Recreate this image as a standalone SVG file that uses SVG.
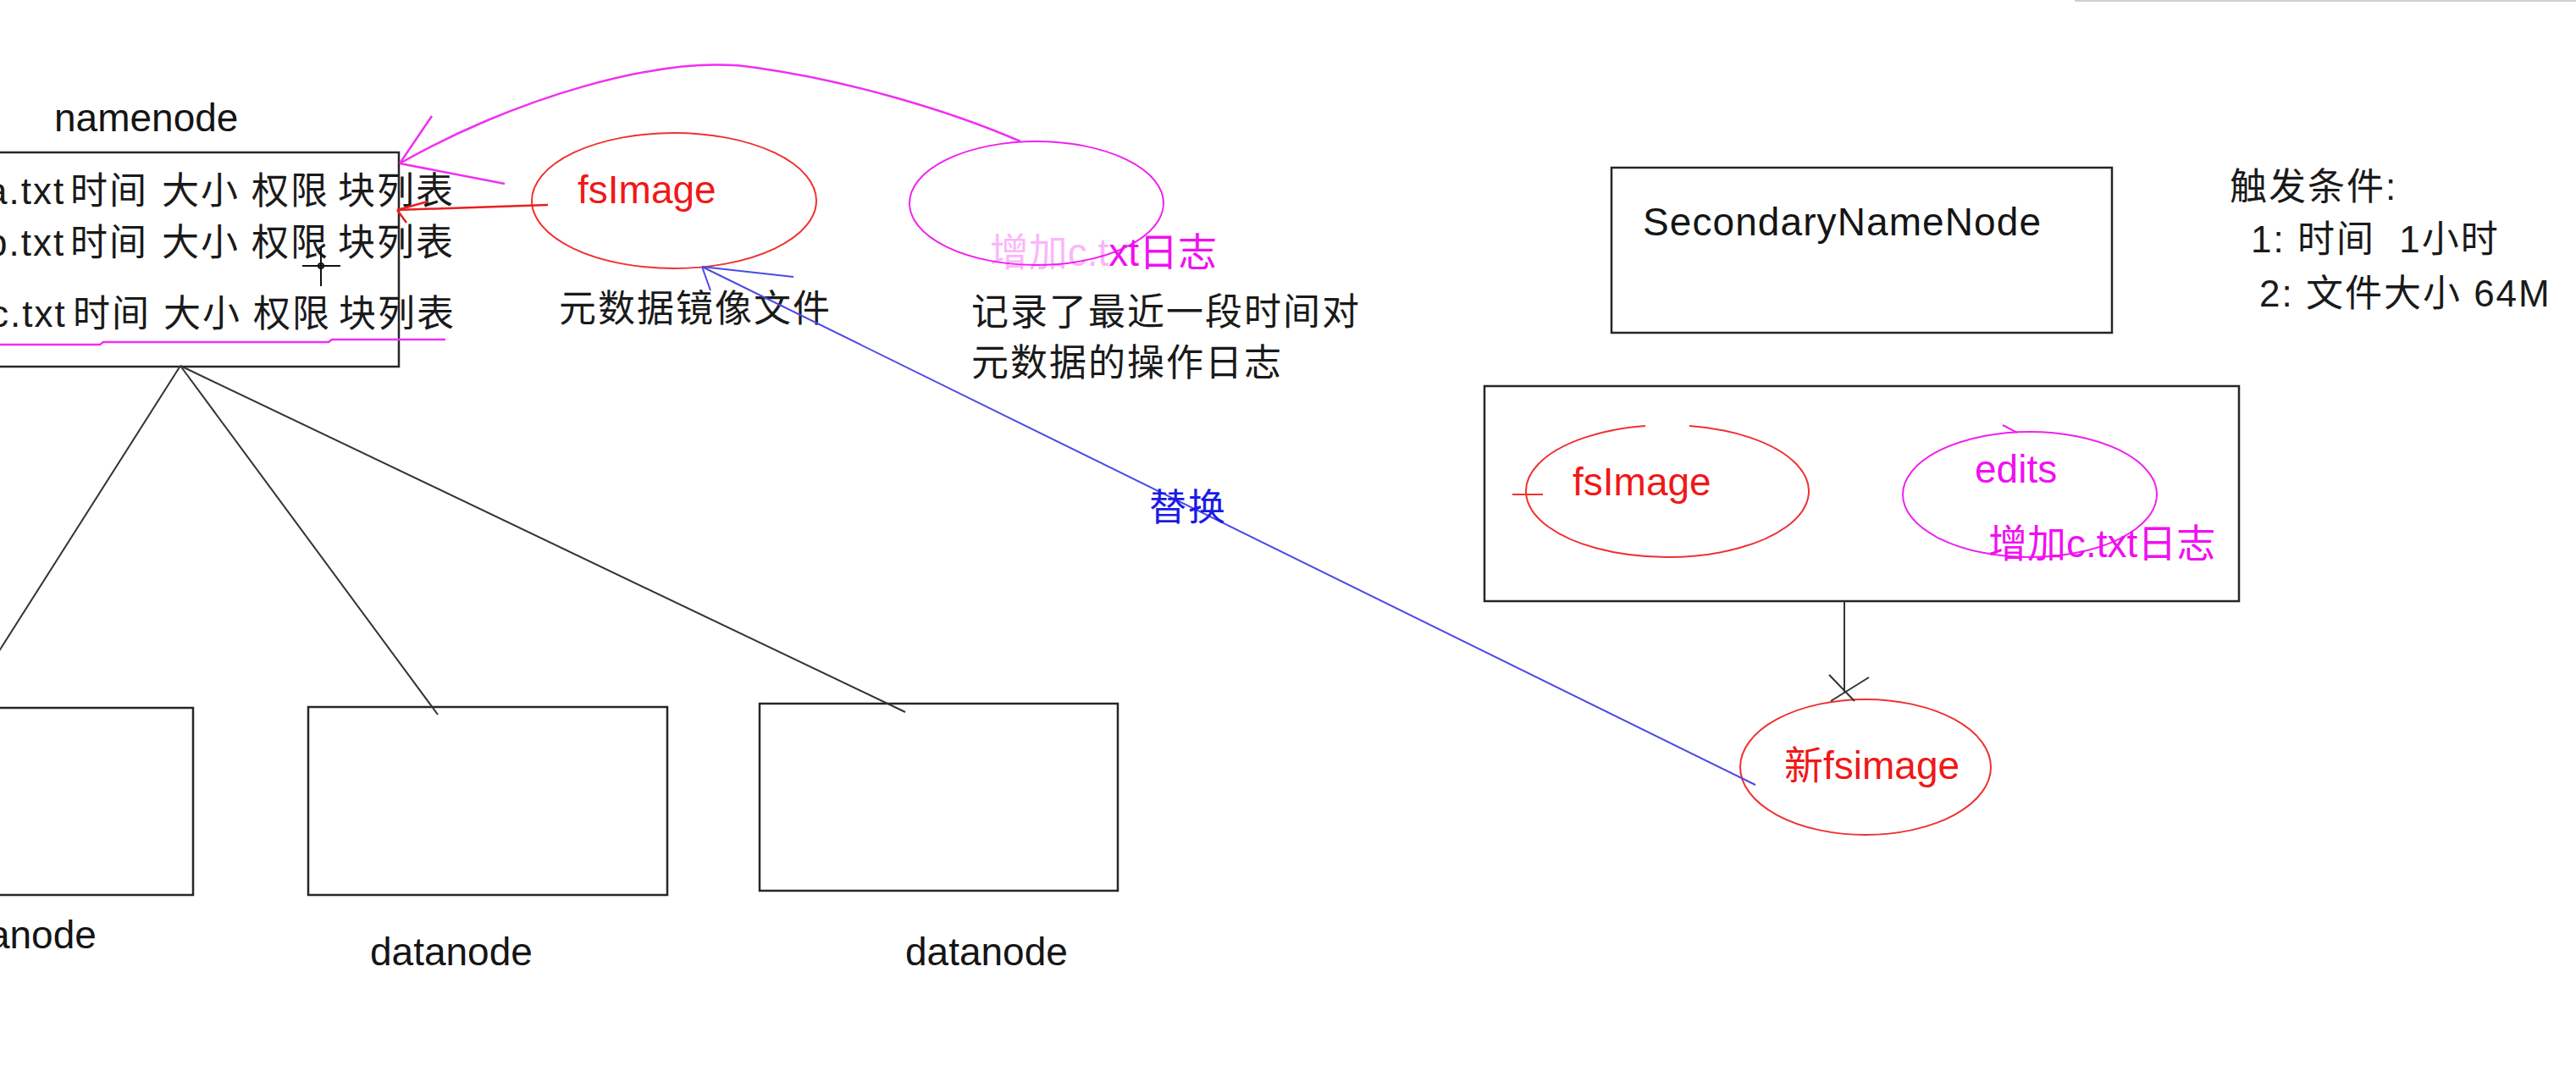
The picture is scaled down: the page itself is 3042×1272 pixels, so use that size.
<svg xmlns="http://www.w3.org/2000/svg" width="3042" height="1272" viewBox="0 0 3042 1272">
<style>
.bg{fill:#ffffff}
.box{fill:none;stroke:#262626;stroke-width:2.5}
.ln{fill:none;stroke:#333333;stroke-width:2}
.t{font-family:"Liberation Sans","Noto Sans CJK SC",sans-serif;font-size:46px;fill:#151515}
.c{font-family:"Liberation Sans","Noto Sans CJK SC",sans-serif;font-size:44px;fill:#1a1a1a;letter-spacing:2px}
.red{fill:#f01818}
.mag{fill:#f010f0}
.blue{fill:#1a1ae6}
.ered{fill:none;stroke:#f03030;stroke-width:2}
.emag{fill:none;stroke:#f020f0;stroke-width:2}
.lmag{fill:none;stroke:#f030f0;stroke-width:2.5}
.lred{fill:none;stroke:#e82020;stroke-width:2.5}
.lblue{fill:none;stroke:#4a4ae6;stroke-width:2}
</style>
<rect class="bg" x="0" y="0" width="3042" height="1272"/>
<line x1="2450" y1="1" x2="3042" y2="1" stroke="#d0d0d0" stroke-width="2"/>

<g id="namenode">
  <text class="t" x="64" y="155">namenode</text>
  <rect class="box" x="-10" y="180" width="481" height="253"/>
  <text class="c" y="241" letter-spacing="0"><tspan x="-16">a.txt</tspan><tspan x="83">时间</tspan><tspan x="191">大小</tspan><tspan x="297">权限</tspan><tspan x="399">块列表</tspan></text>
  <text class="c" y="302" letter-spacing="0"><tspan x="-16">b.txt</tspan><tspan x="83">时间</tspan><tspan x="191">大小</tspan><tspan x="297">权限</tspan><tspan x="399">块列表</tspan></text>
  <text class="c" y="386" letter-spacing="0"><tspan x="-12">c.txt</tspan><tspan x="86">时间</tspan><tspan x="193">大小</tspan><tspan x="299">权限</tspan><tspan x="400">块列表</tspan></text>
</g>

<g id="fsimage-top">
  <ellipse class="ered" cx="796" cy="237" rx="168" ry="80"/>
  <text class="t red" x="682" y="240">fsImage</text>
  <text class="c" x="660" y="380">元数据镜像文件</text>
</g>

<g id="edits-top">
  <ellipse class="emag" cx="1224" cy="240" rx="150" ry="73"/>
  <text class="t mag" x="1437" y="314" text-anchor="end" font-size="44"><tspan opacity="0.3">增加c.t</tspan><tspan>xt日志</tspan></text>
  <text class="c" x="1147" y="384">记录了最近一段时间对</text>
  <text class="c" x="1147" y="444">元数据的操作日志</text>
</g>

<g id="secondarynamenode">
  <rect class="box" x="1903" y="198" width="591" height="195"/>
  <text class="t" x="1940" y="278" textLength="470">SecondaryNameNode</text>
</g>

<g id="trigger">
  <text class="c" x="2633" y="236">触发条件:</text>
  <text class="c" x="2658" y="298" letter-spacing="0">1: 时间&#160; 1小时</text>
  <text class="c" x="2668" y="362" letter-spacing="0">2: 文件大小 64M</text>
</g>

<g id="checkpoint">
  <rect class="box" x="1753" y="456" width="891" height="254"/>
  <path class="ered" d="M1995,503 A167,78 0 1,1 1943,503"/>
  <line class="ered" x1="1786" y1="584" x2="1822" y2="584"/>
  <text class="t red" x="1857" y="585">fsImage</text>
  <ellipse class="emag" cx="2397" cy="584" rx="150" ry="74"/>
  <line class="emag" x1="2365" y1="502" x2="2382" y2="511"/>
  <text class="t mag" x="2332" y="570">edits</text>
  <text class="t mag" x="2348" y="658" font-size="44">增加c.txt日志</text>
</g>

<g id="new-fsimage">
  <ellipse class="ered" cx="2203" cy="906" rx="148" ry="80"/>
  <text class="t red" x="2107" y="920">新fsimage</text>
</g>

<g id="datanode1">
  <rect class="box" x="-10" y="836" width="238" height="221"/>
  <text class="t" x="-78" y="1120">datanode</text>
</g>
<g id="datanode2">
  <rect class="box" x="364" y="835" width="424" height="222"/>
  <text class="t" x="437" y="1140">datanode</text>
</g>
<g id="datanode3">
  <rect class="box" x="897" y="831" width="423" height="221"/>
  <text class="t" x="1069" y="1140">datanode</text>
</g>

<g id="connectors">
  <line class="ln" x1="213" y1="432" x2="-10" y2="783"/>
  <line class="ln" x1="213" y1="432" x2="517" y2="844"/>
  <line class="ln" x1="213" y1="432" x2="1069" y2="841"/>

  <line class="lred" x1="647" y1="242" x2="469" y2="248"/>
  <line class="lred" x1="469" y1="248" x2="505" y2="238"/>
  <line class="lred" x1="469" y1="248" x2="480" y2="263"/>

  <path class="lmag" d="M1205,167 C1120,130 1000,95 893,80 C780,62 600,120 472,193"/>
  <line class="lmag" x1="472" y1="193" x2="510" y2="137"/>
  <line class="lmag" x1="472" y1="193" x2="596" y2="217"/>
  <polyline class="lmag" points="0,407 118,407 122,404 388,404 392,401 526,401"/>

  <line class="lblue" x1="2073" y1="927" x2="829" y2="315"/>
  <line class="lblue" x1="829" y1="315" x2="937" y2="327"/>
  <line class="lblue" x1="829" y1="315" x2="839" y2="343"/>
  <text class="c blue" x="1357" y="615" font-size="42">替换</text>

  <line class="ln" x1="2178" y1="710" x2="2178" y2="818"/>
  <line class="ln" x1="2160" y1="797" x2="2190" y2="828"/>
  <line class="ln" x1="2207" y1="800" x2="2162" y2="828"/>

  <g id="cursor" stroke="#111" stroke-width="2" fill="none">
    <line x1="357" y1="314" x2="402" y2="314"/>
    <line x1="379" y1="293" x2="379" y2="338"/>
    <circle cx="379" cy="314" r="3"/>
  </g>
</g>
</svg>
